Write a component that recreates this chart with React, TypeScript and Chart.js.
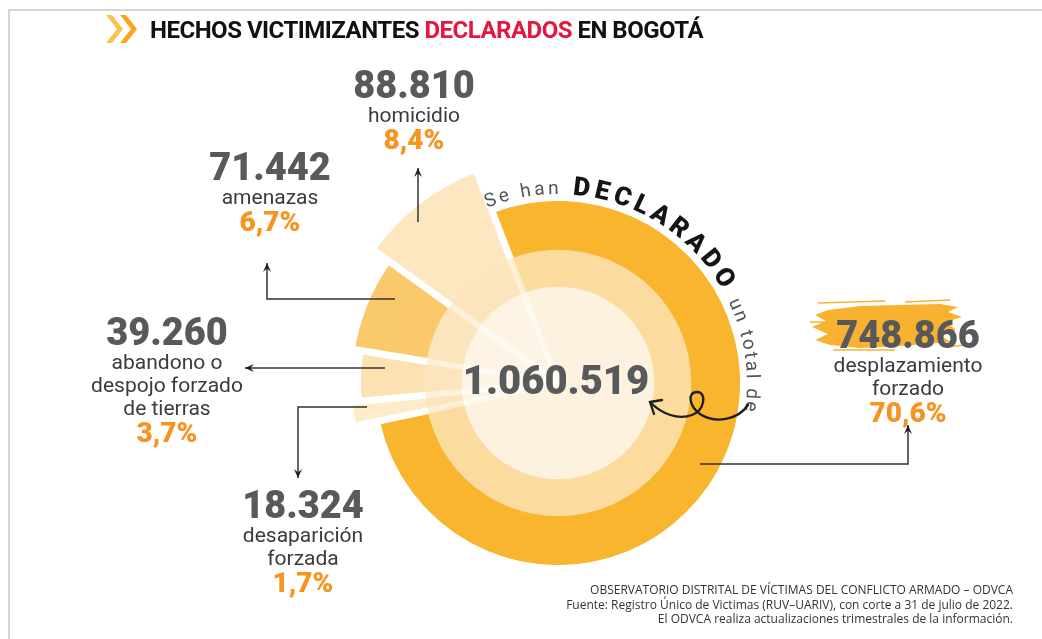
import React, { useEffect, useRef } from "react";
import { Chart, registerables } from "chart.js";

Chart.register(...registerables);

// ---------- DATA ----------
const categories = [
  "desplazamiento forzado",
  "desaparición forzada",
  "abandono o despojo forzado de tierras",
  "amenazas",
  "homicidio",
];
const counts = [748866, 18324, 39260, 71442, 88810];
const percents = [70.6, 1.7, 3.7, 6.7, 8.4];
const totalDeclared = 1060519;
const labelLines = [
  ["desplazamiento", "forzado"],
  ["desaparición", "forzada"],
  ["abandono o", "despojo forzado", "de tierras"],
  ["amenazas"],
  ["homicidio"],
];

// ---------- STYLES / LAYOUT ----------
const CANVAS_W = 1042;
const CANVAS_H = 639;
const CENTER = { x: 558, y: 383 };
const OUTER_R = 226;

const ORANGE = "#f8b52d";
const HOM = "#fde7c0";
const AME = "#f9c96b";
const ABA = "#fde2b1";
const DES = "#fdebca";
const MID = "#fbdc9e";
const LMID = "#fce5bd";
const INNER = "#fdf2e0";
const LIN = "#fdf4e6";
const T = "rgba(0,0,0,0)";

const ringWeights = [20, 9, 15, 48, 37, 97];
const ringColors = [
  [T, T, T, T, HOM],
  [T, DES, T, AME, HOM],
  [T, DES, ABA, AME, HOM],
  [ORANGE, DES, ABA, AME, HOM],
  [MID, LMID, LMID, LMID, LMID],
  [INNER, LIN, LIN, LIN, LIN],
];

// label block positions: center x, baseline of the number
const labelPos = [
  { x: 908, y: 348 },
  { x: 303, y: 518 },
  { x: 167, y: 345 },
  { x: 270, y: 180 },
  { x: 414, y: 98 },
];

// arrows as offsets from the pie centre
const arrowPaths = [
  [[142, 81], [350, 81], [350, 42]],
  [[-191, 24], [-260, 24], [-260, 95]],
  [[-173, -15], [-313, -15]],
  [[-163, -84], [-291, -84], [-291, -120]],
  [[-140, -161], [-140, -215]],
];

const fmtCount = (n: number) => String(n).replace(/\B(?=(\d{3})+(?!\d))/g, ".");
const fmtPct = (p: number) => p.toFixed(1).replace(".", ",") + "%";

const NUM_COLOR = "#58595b";
const LBL_COLOR = "#3b3b3b";
const PCT_COLOR = "#f7931e";

function drawArrow(ctx: CanvasRenderingContext2D, pts: number[][]) {
  ctx.save();
  ctx.strokeStyle = "#333";
  ctx.fillStyle = "#222";
  ctx.lineWidth = 1.5;
  ctx.beginPath();
  ctx.moveTo(pts[0][0], pts[0][1]);
  for (let i = 1; i < pts.length; i++) ctx.lineTo(pts[i][0], pts[i][1]);
  ctx.stroke();
  const a = pts[pts.length - 2];
  const b = pts[pts.length - 1];
  const ang = Math.atan2(b[1] - a[1], b[0] - a[0]);
  const L = 9, W = 4;
  ctx.beginPath();
  ctx.moveTo(b[0], b[1]);
  ctx.lineTo(b[0] - L * Math.cos(ang) + W * Math.sin(ang), b[1] - L * Math.sin(ang) - W * Math.cos(ang));
  ctx.lineTo(b[0] - 0.6 * L * Math.cos(ang), b[1] - 0.6 * L * Math.sin(ang));
  ctx.lineTo(b[0] - L * Math.cos(ang) - W * Math.sin(ang), b[1] - L * Math.sin(ang) + W * Math.cos(ang));
  ctx.closePath();
  ctx.fill();
  ctx.restore();
}

function drawArcText(
  ctx: CanvasRenderingContext2D,
  cx: number,
  cy: number,
  r: number,
  startDeg: number,
  text: string,
  font: string,
  color: string,
  spacing: number
) {
  ctx.save();
  ctx.font = font;
  ctx.fillStyle = color;
  ctx.textAlign = "center";
  ctx.textBaseline = "alphabetic";
  const rAdv = r + 6;
  let ang = (startDeg * Math.PI) / 180;
  for (const ch of text) {
    const w = ctx.measureText(ch).width;
    ang += w / 2 / rAdv;
    ctx.save();
    ctx.translate(cx, cy);
    ctx.rotate(ang);
    ctx.fillText(ch, 0, -r);
    ctx.restore();
    ang += (w / 2 + spacing) / rAdv;
  }
  ctx.restore();
}

const overlayPlugin = {
  id: "overlay",
  afterDatasetsDraw(chart: any) {
    const ctx: CanvasRenderingContext2D = chart.ctx;
    const meta0 = chart.getDatasetMeta(0);
    const arcs = meta0.data as any[];
    if (!arcs.length) return;
    const cx = arcs[0].x;
    const cy = arcs[0].y;
    const outerMax = meta0.controller.outerRadius;
    const ringR = chart.getDatasetMeta(4).controller.outerRadius;

    // separators between slices
    ctx.save();
    arcs.forEach((a: any) => {
      const dx = Math.cos(a.startAngle);
      const dy = Math.sin(a.startAngle);
      ctx.strokeStyle = "rgba(255,255,255,0.45)";
      ctx.lineWidth = 6;
      ctx.beginPath();
      ctx.moveTo(cx, cy);
      ctx.lineTo(cx + dx * ringR, cy + dy * ringR);
      ctx.stroke();
      ctx.strokeStyle = "#ffffff";
      ctx.lineWidth = 7;
      ctx.beginPath();
      ctx.moveTo(cx + dx * (ringR - 1), cy + dy * (ringR - 1));
      ctx.lineTo(cx + dx * (outerMax + 6), cy + dy * (outerMax + 6));
      ctx.stroke();
    });
    ctx.restore();

    // curved text
    const rText = 189;
    drawArcText(ctx, cx, cy, rText, -22, "Se han", "400 19px Roboto", "#555555", 3.6);
    drawArcText(ctx, cx, cy, rText, 4.5, "DECLARADO", "900 26px Roboto", "#151515", 5);
    drawArcText(ctx, cx, cy, rText, 64.5, "un total de", "400 19px Roboto", "#555555", 2.6);

    // arrows
    arrowPaths.forEach((p) => drawArrow(ctx, p.map(([x, y]) => [cx + x, cy + y])));

    // curly arrow
    ctx.save();
    ctx.strokeStyle = "#1d1d1d";
    ctx.lineWidth = 2.3;
    ctx.lineCap = "round";
    ctx.beginPath();
    ctx.moveTo(cx + 190, cy + 22);
    ctx.bezierCurveTo(cx + 180, cy + 37, cx + 157, cy + 41, cx + 142, cy + 31);
    ctx.bezierCurveTo(cx + 131, cy + 23, cx + 129, cy + 9, cx + 139, cy + 9);
    ctx.bezierCurveTo(cx + 149, cy + 9, cx + 147, cy + 27, cx + 134, cy + 32);
    ctx.bezierCurveTo(cx + 120, cy + 37, cx + 104, cy + 31, cx + 93, cy + 20);
    ctx.stroke();
    ctx.beginPath();
    ctx.moveTo(cx + 96, cy + 31);
    ctx.lineTo(cx + 92, cy + 19);
    ctx.lineTo(cx + 104, cy + 17);
    ctx.stroke();
    ctx.restore();
  },
  beforeDatasetsDraw(chart: any) {
    const ctx: CanvasRenderingContext2D = chart.ctx;
    // brush stroke behind 748.866
    ctx.save();
    ctx.fillStyle = "#f9b230";
    const pts = [
      [828, 310], [860, 306], [900, 305], [940, 304], [958, 307], [948, 312], [962, 317],
      [946, 322], [956, 330], [941, 336], [951, 342], [900, 346], [860, 348], [830, 345],
      [815, 340], [828, 334], [812, 327], [826, 321], [815, 315],
    ];
    ctx.beginPath();
    ctx.moveTo(pts[0][0], pts[0][1]);
    pts.slice(1).forEach(([x, y]) => ctx.lineTo(x, y));
    ctx.closePath();
    ctx.fill();
    ctx.strokeStyle = "#f9b230";
    ctx.lineWidth = 1.5;
    [
      [[818, 303], [885, 301]],
      [[905, 302], [950, 300]],
      [[833, 350], [895, 350]],
      [[810, 322], [830, 322]],
      [[945, 347], [965, 345]],
    ].forEach(([a, b]) => {
      ctx.beginPath();
      ctx.moveTo(a[0], a[1]);
      ctx.lineTo(b[0], b[1]);
      ctx.stroke();
    });
    // title chevrons
    const chev = (x0: number, color: string) => {
      ctx.fillStyle = color;
      ctx.beginPath();
      ctx.moveTo(x0, 15);
      ctx.lineTo(x0 + 6, 15);
      ctx.lineTo(x0 + 17, 29);
      ctx.lineTo(x0 + 6, 43);
      ctx.lineTo(x0, 43);
      ctx.lineTo(x0 + 11, 29);
      ctx.closePath();
      ctx.fill();
    };
    chev(106, "#fcc04f");
    chev(120, "#f9a51e");
    ctx.restore();
  },
};

function TextLine(props: {
  x: number;
  baseline: number;
  size: number;
  weight?: number;
  color: string;
  family?: string;
  align?: "center" | "right" | "left";
  width?: number;
  ascentRatio?: number;
  letterSpacing?: number;
  children: React.ReactNode;
}) {
  const width = props.width ?? 320;
  const align = props.align ?? "center";
  const left = align === "center" ? props.x - width / 2 : align === "right" ? props.x - width : props.x;
  const ratio = props.ascentRatio ?? 0.842;
  return (
    <div
      style={{
        position: "absolute",
        left,
        top: props.baseline - ratio * props.size,
        width,
        textAlign: align,
        fontSize: props.size,
        lineHeight: `${props.size}px`,
        fontWeight: props.weight ?? 400,
        color: props.color,
        fontFamily: props.family ?? "Roboto, sans-serif",
        whiteSpace: "nowrap",
        letterSpacing: props.letterSpacing ?? 0,
      }}
    >
      {props.children}
    </div>
  );
}

export default function App() {
  const ref = useRef<HTMLCanvasElement>(null);

  useEffect(() => {
    if (!ref.current) return;
    const chart = new Chart(ref.current, {
      type: "doughnut",
      data: {
        labels: categories,
        datasets: ringColors.map((colors, i) => ({
          data: percents,
          backgroundColor: colors,
          borderColor: colors,
          borderWidth: 1,
          weight: ringWeights[i],
          hoverOffset: 0,
        })),
      },
      options: {
        responsive: false,
        animation: false,
        rotation: -21,
        cutout: 0,
        layout: {
          padding: {
            left: CENTER.x - OUTER_R,
            right: CANVAS_W - (CENTER.x + OUTER_R),
            top: CENTER.y - OUTER_R,
            bottom: CANVAS_H - (CENTER.y + OUTER_R),
          },
        },
        plugins: {
          legend: { display: false },
          tooltip: { enabled: false },
        },
        events: [],
      },
      plugins: [overlayPlugin],
    } as any);
    return () => chart.destroy();
  }, []);

  const footFont = "'Open Sans', sans-serif";

  return (
    <div
      style={{
        position: "absolute",
        left: 0,
        top: 0,
        width: CANVAS_W,
        height: CANVAS_H,
        background: "#fff",
        overflow: "hidden",
      }}
    >
      <div
        style={{
          position: "absolute",
          left: 8,
          top: 9,
          width: CANVAS_W,
          height: CANVAS_H,
          borderTop: "2px solid #d5d5d5",
          borderLeft: "2px solid #d5d5d5",
        }}
      />
      <canvas
        ref={ref}
        width={CANVAS_W}
        height={CANVAS_H}
        style={{ position: "absolute", left: 0, top: 0 }}
      />
      {/* title */}
      <TextLine x={150} baseline={38} size={24} weight={700} color="#111" align="left" width={700} letterSpacing={-0.5}>
        HECHOS VICTIMIZANTES <span style={{ color: "#e5173f" }}>DECLARADOS</span> EN BOGOTÁ
      </TextLine>
      {/* centre total */}
      <TextLine x={556} baseline={395} size={40} weight={900} color={NUM_COLOR}>
        {fmtCount(totalDeclared)}
      </TextLine>
      {/* category labels */}
      {categories.map((c, i) => {
        const p = labelPos[i];
        const lines = labelLines[i];
        const firstLbl = p.y + 24.5;
        const lastLbl = firstLbl + 23 * (lines.length - 1);
        return (
          <React.Fragment key={c}>
            <TextLine x={p.x} baseline={p.y} size={38} weight={900} color={NUM_COLOR}>
              {fmtCount(counts[i])}
            </TextLine>
            {lines.map((l, j) => (
              <TextLine key={j} x={p.x} baseline={firstLbl + 23 * j} size={21} color={LBL_COLOR}>
                {l}
              </TextLine>
            ))}
            <TextLine x={p.x} baseline={lastLbl + 27.5} size={28} weight={900} color={PCT_COLOR}>
              {fmtPct(percents[i])}
            </TextLine>
          </React.Fragment>
        );
      })}
      {/* footer */}
      <TextLine x={1013} baseline={595} size={12} color="#333" align="right" width={600} family={footFont} ascentRatio={0.888}>
        OBSERVATORIO DISTRITAL DE VÍCTIMAS DEL CONFLICTO ARMADO – ODVCA
      </TextLine>
      <TextLine x={1013} baseline={609.5} size={12} color="#333" align="right" width={600} family={footFont} ascentRatio={0.888}>
        Fuente: Registro Único de Victimas (RUV–UARIV), con corte a 31 de julio de 2022.
      </TextLine>
      <TextLine x={1013} baseline={623.5} size={12} color="#333" align="right" width={600} family={footFont} ascentRatio={0.888}>
        El ODVCA realiza actualizaciones trimestrales de la información.
      </TextLine>
    </div>
  );
}
